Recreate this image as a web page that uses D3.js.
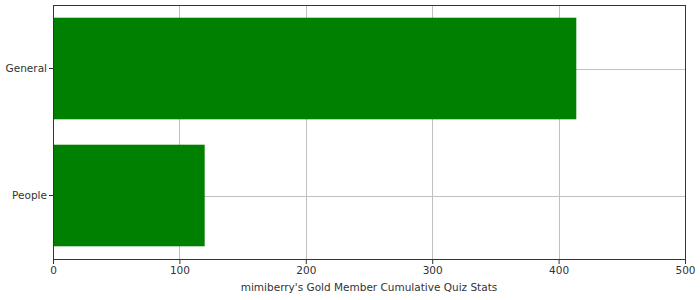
<!DOCTYPE html>
<meta charset="utf-8">
<head>
  <title>Quiz Stats</title>
</head>
<style>
  body { margin: 0; background: #fff; }
  text { font-family: "DejaVu Sans", sans-serif; fill: #333; }
</style>
<body>
  <div id="chart"></div>
  <script src="https://d3js.org/d3.v7.min.js"></script>
  <script>
  // data
  var categories = ["General", "People"];
  var values = [414, 120];
  var xTicks = [0, 100, 200, 300, 400, 500];
  var axisTitle = "mimiberry's Gold Member Cumulative Quiz Stats";

  var margin = {top: 5, right: 15, bottom: 41, left: 53},
      width = 700 - margin.left - margin.right,
      height = 300 - margin.top - margin.bottom;

  var svg = d3.select("#chart")
    .append("svg")
      .attr("width", 700)
      .attr("height", 300)
    .append("g")
      .attr("transform", "translate(" + margin.left + "," + margin.top + ")");

  var x = d3.scaleLinear().domain([0, 500]).range([0, width]);
  var y = d3.scaleBand().domain(categories).range([0, height])
    .paddingInner(0.2).paddingOuter(0.1);

  // grid lines
  svg.append("g").selectAll("line.vg")
    .data(xTicks.slice(1, -1))
    .enter().append("line")
      .attr("x1", function(d) { return Math.round(x(d)) + 0.5; })
      .attr("x2", function(d) { return Math.round(x(d)) + 0.5; })
      .attr("y1", 0).attr("y2", height)
      .attr("stroke", "#c0c0c0");
  svg.append("g").selectAll("line.hg")
    .data(categories)
    .enter().append("line")
      .attr("x1", 0).attr("x2", width)
      .attr("y1", function(d) { return Math.round(y(d) + y.bandwidth() / 2) + 0.5; })
      .attr("y2", function(d) { return Math.round(y(d) + y.bandwidth() / 2) + 0.5; })
      .attr("stroke", "#c0c0c0");

  // bars
  svg.append("g").selectAll("rect")
    .data(values)
    .enter().append("rect")
      .attr("x", 0)
      .attr("y", function(d, i) { return y(categories[i]); })
      .attr("width", function(d) { return x(d); })
      .attr("height", y.bandwidth())
      .attr("fill", "#008000");

  // frame
  svg.append("rect")
    .attr("x", 0.5).attr("y", 0.5)
    .attr("width", width).attr("height", height)
    .attr("fill", "none").attr("stroke", "#333");

  // axes
  var xAxis = svg.append("g")
    .attr("transform", "translate(0," + height + ")")
    .call(d3.axisBottom(x).tickValues(xTicks).tickSize(5).tickSizeOuter(0));
  var yAxis = svg.append("g")
    .call(d3.axisLeft(y).tickSize(4).tickSizeOuter(0));
  [xAxis, yAxis].forEach(function(a) {
    a.select(".domain").attr("stroke", "#333");
    a.selectAll(".tick line").attr("stroke", "#333");
    a.selectAll(".tick text").attr("fill", "#333")
      .style("font-family", "DejaVu Sans").style("font-size", "10.5px");
  });
  yAxis.selectAll(".tick text").attr("x", -6);

  svg.append("text")
    .attr("x", width / 2)
    .attr("y", height + 32)
    .attr("text-anchor", "middle")
    .style("font-size", "10.5px")
    .text(axisTitle);
  </script>
</body>
</html>
